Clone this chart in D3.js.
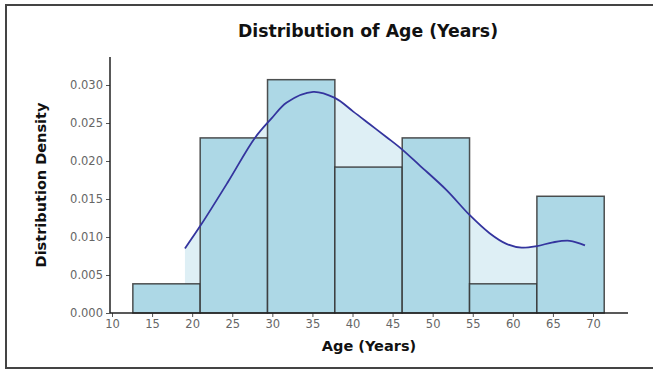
<!DOCTYPE html>
<html>
<head>
<meta charset="utf-8">
<script src="https://cdn.jsdelivr.net/npm/d3@7"></script>
<style>
  body { margin: 0; background: #fff; }
  svg { display: block; font-family: "DejaVu Sans", sans-serif; }
</style>
</head>
<body>
<svg id="chart" width="653" height="370"></svg>
<script>
// histogram bins (bin width 8.4) and their density heights
const binEdges = [12.6, 21.0, 29.4, 37.8, 46.2, 54.6, 63.0, 71.4];
const binDensity = [0.00384, 0.02304, 0.0307, 0.0192, 0.02304, 0.00384, 0.01536];

// KDE curve
const kdeAge = [19.1, 21.1, 24.5, 27.8, 29.9, 31.8, 35.1, 37.8, 40.1, 42.2, 44.3, 46.1, 48.4, 51.7, 54.6, 57.1, 59.2, 61.1, 63.0, 65.0, 67.1, 69.0];
const kdeDensity = [0.0085, 0.0116, 0.0173, 0.0230, 0.0256, 0.0277, 0.0291, 0.0283, 0.0265, 0.0248, 0.0231, 0.0216, 0.0194, 0.0162, 0.0129, 0.0105, 0.0091, 0.0086, 0.0088, 0.0093, 0.0095, 0.0089];

const xTicks = [10, 15, 20, 25, 30, 35, 40, 45, 50, 55, 60, 65, 70];
const yTicks = [0, 0.005, 0.01, 0.015, 0.02, 0.025, 0.03];

const svg = d3.select('#chart');
const plotLeft = 110, plotRight = 628, plotTop = 57, plotBottom = 313;

const x = d3.scaleLinear().domain([10, 70]).range([112, 593]);
const y = d3.scaleLinear().domain([0, 0.03]).range([plotBottom, 85]);

// outer frame
svg.append('rect')
  .attr('x', 6).attr('y', 5).attr('width', 660).attr('height', 363)
  .attr('fill', 'none').attr('stroke', '#444').attr('stroke-width', 2);

// title
svg.append('text')
  .attr('x', 368).attr('y', 37)
  .attr('text-anchor', 'middle')
  .attr('font-weight', 'bold').attr('font-size', 17.3).attr('fill', '#111')
  .text('Distribution of Age (Years)');

const kde = kdeAge.map((a, i) => ({ a, d: kdeDensity[i] }));
const kdeCurve = d3.curveCatmullRom.alpha(0.5);

// light fill under the KDE curve, behind the bars
svg.append('path')
  .datum(kde)
  .attr('fill', '#add8e6').attr('opacity', 0.4)
  .attr('d', d3.area().x((p) => x(p.a)).y0(y(0)).y1((p) => y(p.d)).curve(kdeCurve));

// bars
const bins = binDensity.map((d, i) => ({ x0: binEdges[i], x1: binEdges[i + 1], d }));
svg.selectAll('.bar')
  .data(bins)
  .join('rect')
  .attr('class', 'bar')
  .attr('x', (b) => x(b.x0))
  .attr('y', (b) => y(b.d))
  .attr('width', (b) => x(b.x1) - x(b.x0))
  .attr('height', (b) => y(0) - y(b.d))
  .attr('fill', '#add8e6')
  .attr('stroke', '#333').attr('stroke-opacity', 0.85).attr('stroke-width', 1.5);

// KDE line
svg.append('path')
  .datum(kde)
  .attr('fill', 'none').attr('stroke', '#34349e').attr('stroke-width', 1.8)
  .attr('d', d3.line().x((p) => x(p.a)).y((p) => y(p.d)).curve(kdeCurve));

// axes
const xAxis = svg.append('g')
  .attr('transform', `translate(0, ${plotBottom})`)
  .call(d3.axisBottom(x).tickValues(xTicks).tickSize(4).tickPadding(3).tickFormat(d3.format('d')));
const yAxis = svg.append('g')
  .attr('transform', `translate(${plotLeft}, 0)`)
  .call(d3.axisLeft(y).tickValues(yTicks).tickSize(4).tickPadding(3).tickFormat(d3.format('.3f')));

[xAxis, yAxis].forEach((g) => {
  g.select('.domain').remove();
  g.selectAll('.tick line').attr('stroke', '#555');
  g.selectAll('.tick text').attr('fill', '#666').attr('font-size', 11.5).attr('font-family', '"DejaVu Sans", sans-serif');
});

// spines
svg.append('line').attr('x1', plotLeft).attr('x2', plotLeft).attr('y1', plotTop).attr('y2', plotBottom)
  .attr('stroke', '#222').attr('stroke-width', 1.5);
svg.append('line').attr('x1', plotLeft).attr('x2', plotRight).attr('y1', plotBottom).attr('y2', plotBottom)
  .attr('stroke', '#222').attr('stroke-width', 1.5);

// axis labels
svg.append('text')
  .attr('x', 369).attr('y', 351)
  .attr('text-anchor', 'middle')
  .attr('font-weight', 'bold').attr('font-size', 14.5).attr('fill', '#111')
  .text('Age (Years)');
svg.append('text')
  .attr('transform', `translate(46, ${(plotTop + plotBottom) / 2}) rotate(-90)`)
  .attr('text-anchor', 'middle')
  .attr('font-weight', 'bold').attr('font-size', 14.5).attr('fill', '#111')
  .text('Distribution Density');
</script>
</body>
</html>
